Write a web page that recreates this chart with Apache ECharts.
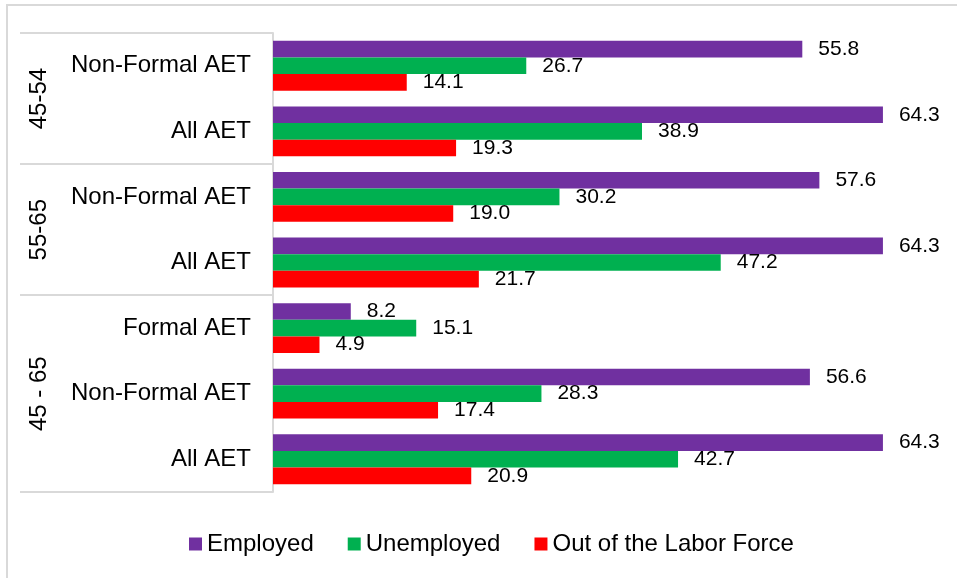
<!DOCTYPE html>
<html>
<head>
<meta charset="utf-8">
<script src="https://cdn.jsdelivr.net/npm/echarts@6/dist/echarts.min.js"></script>
<style>
  html, body { margin: 0; padding: 0; background: #fff; }
  #chart { width: 957px; height: 578px; }
</style>
</head>
<body>
<div id="chart"></div>
<script>
// Row labels, top to bottom
const categories = ['Non-Formal AET', 'All AET', 'Non-Formal AET', 'All AET', 'Formal AET', 'Non-Formal AET', 'All AET'];
// Age groups: label and the row indices they span
const groupLabels = ['45-54', '55-65', '45 - 65'];
const groupStarts = [0, 2, 4];
const groupEnds = [1, 3, 6];

const seriesNames = ['Employed', 'Unemployed', 'Out of the Labor Force'];
const employed = [55.8, 64.3, 57.6, 64.3, 8.2, 56.6, 64.3];
const unemployed = [26.7, 38.9, 30.2, 47.2, 15.1, 28.3, 42.7];
const outOfLabor = [14.1, 19.3, 19.0, 21.7, 4.9, 17.4, 20.9];

const colors = ['#7030A0', '#00B050', '#FF0000'];
const FONT = '"Liberation Sans", Arial, sans-serif';
const LINE = '#d9d9d9';

const chart = echarts.init(document.getElementById('chart'), null, { renderer: 'canvas' });

function barSeries(name, data, color) {
  return {
    name: name,
    type: 'bar',
    data: data,
    barGap: '0%',
    barCategoryGap: '24%',
    itemStyle: { color: color },
    label: {
      show: true,
      position: 'right',
      distance: 16,
      color: '#000',
      fontSize: 21,
      fontFamily: FONT,
      padding: [3, 0, 0, 0],
      formatter: p => p.value.toFixed(1)
    }
  };
}

chart.setOption({
  animation: false,
  backgroundColor: '#fff',
  textStyle: { fontFamily: FONT },
  grid: { left: 273, top: 33, bottom: 86, right: 20 },
  legend: {
    bottom: 17,
    left: 184,
    icon: 'rect',
    itemWidth: 13,
    itemHeight: 13,
    itemGap: 34,
    textStyle: { fontSize: 24, color: '#000', fontFamily: FONT },
    data: seriesNames
  },
  xAxis: {
    type: 'value',
    min: 0,
    max: 70,
    show: false
  },
  yAxis: {
    type: 'category',
    inverse: true,
    data: categories,
    axisLine: { show: true, lineStyle: { color: LINE, width: 2 } },
    axisTick: { show: false },
    axisLabel: { fontSize: 24, color: '#000', margin: 22, fontFamily: FONT, padding: [5, 0, 0, 0] }
  },
  series: [
    barSeries(seriesNames[0], employed, colors[0]),
    barSeries(seriesNames[1], unemployed, colors[1]),
    barSeries(seriesNames[2], outOfLabor, colors[2])
  ]
});

// Group separators and rotated group labels, positioned from the category scale
const axisX = chart.convertToPixel({ gridIndex: 0 }, [0, 0])[0];
const c0 = chart.convertToPixel({ yAxisIndex: 0 }, 0);
const c1 = chart.convertToPixel({ yAxisIndex: 0 }, 1);
const band = c1 - c0;
const edgeTop = i => chart.convertToPixel({ yAxisIndex: 0 }, i) - band / 2;
const edgeBottom = i => chart.convertToPixel({ yAxisIndex: 0 }, i) + band / 2;

const graphics = [{
  type: 'rect',
  silent: true,
  z: -10,
  shape: { x: 7, y: 5, width: 970, height: 600 },
  style: { fill: 'none', stroke: LINE, lineWidth: 2 }
}];

const boundaries = [edgeTop(0)];
groupEnds.forEach(e => boundaries.push(edgeBottom(e)));
boundaries.forEach(y => {
  graphics.push({
    type: 'line',
    silent: true,
    shape: { x1: 20, y1: Math.round(y), x2: axisX, y2: Math.round(y) },
    style: { stroke: LINE, lineWidth: 2 }
  });
});

groupLabels.forEach((g, i) => {
  const yc = (edgeTop(groupStarts[i]) + edgeBottom(groupEnds[i])) / 2;
  graphics.push({
    type: 'text',
    silent: true,
    x: 39,
    y: yc,
    rotation: Math.PI / 2,
    style: {
      text: g,
      fontSize: 24,
      fontFamily: FONT,
      fill: '#000',
      textAlign: 'center',
      textVerticalAlign: 'middle'
    }
  });
});

chart.setOption({ graphic: graphics });
</script>
</body>
</html>
